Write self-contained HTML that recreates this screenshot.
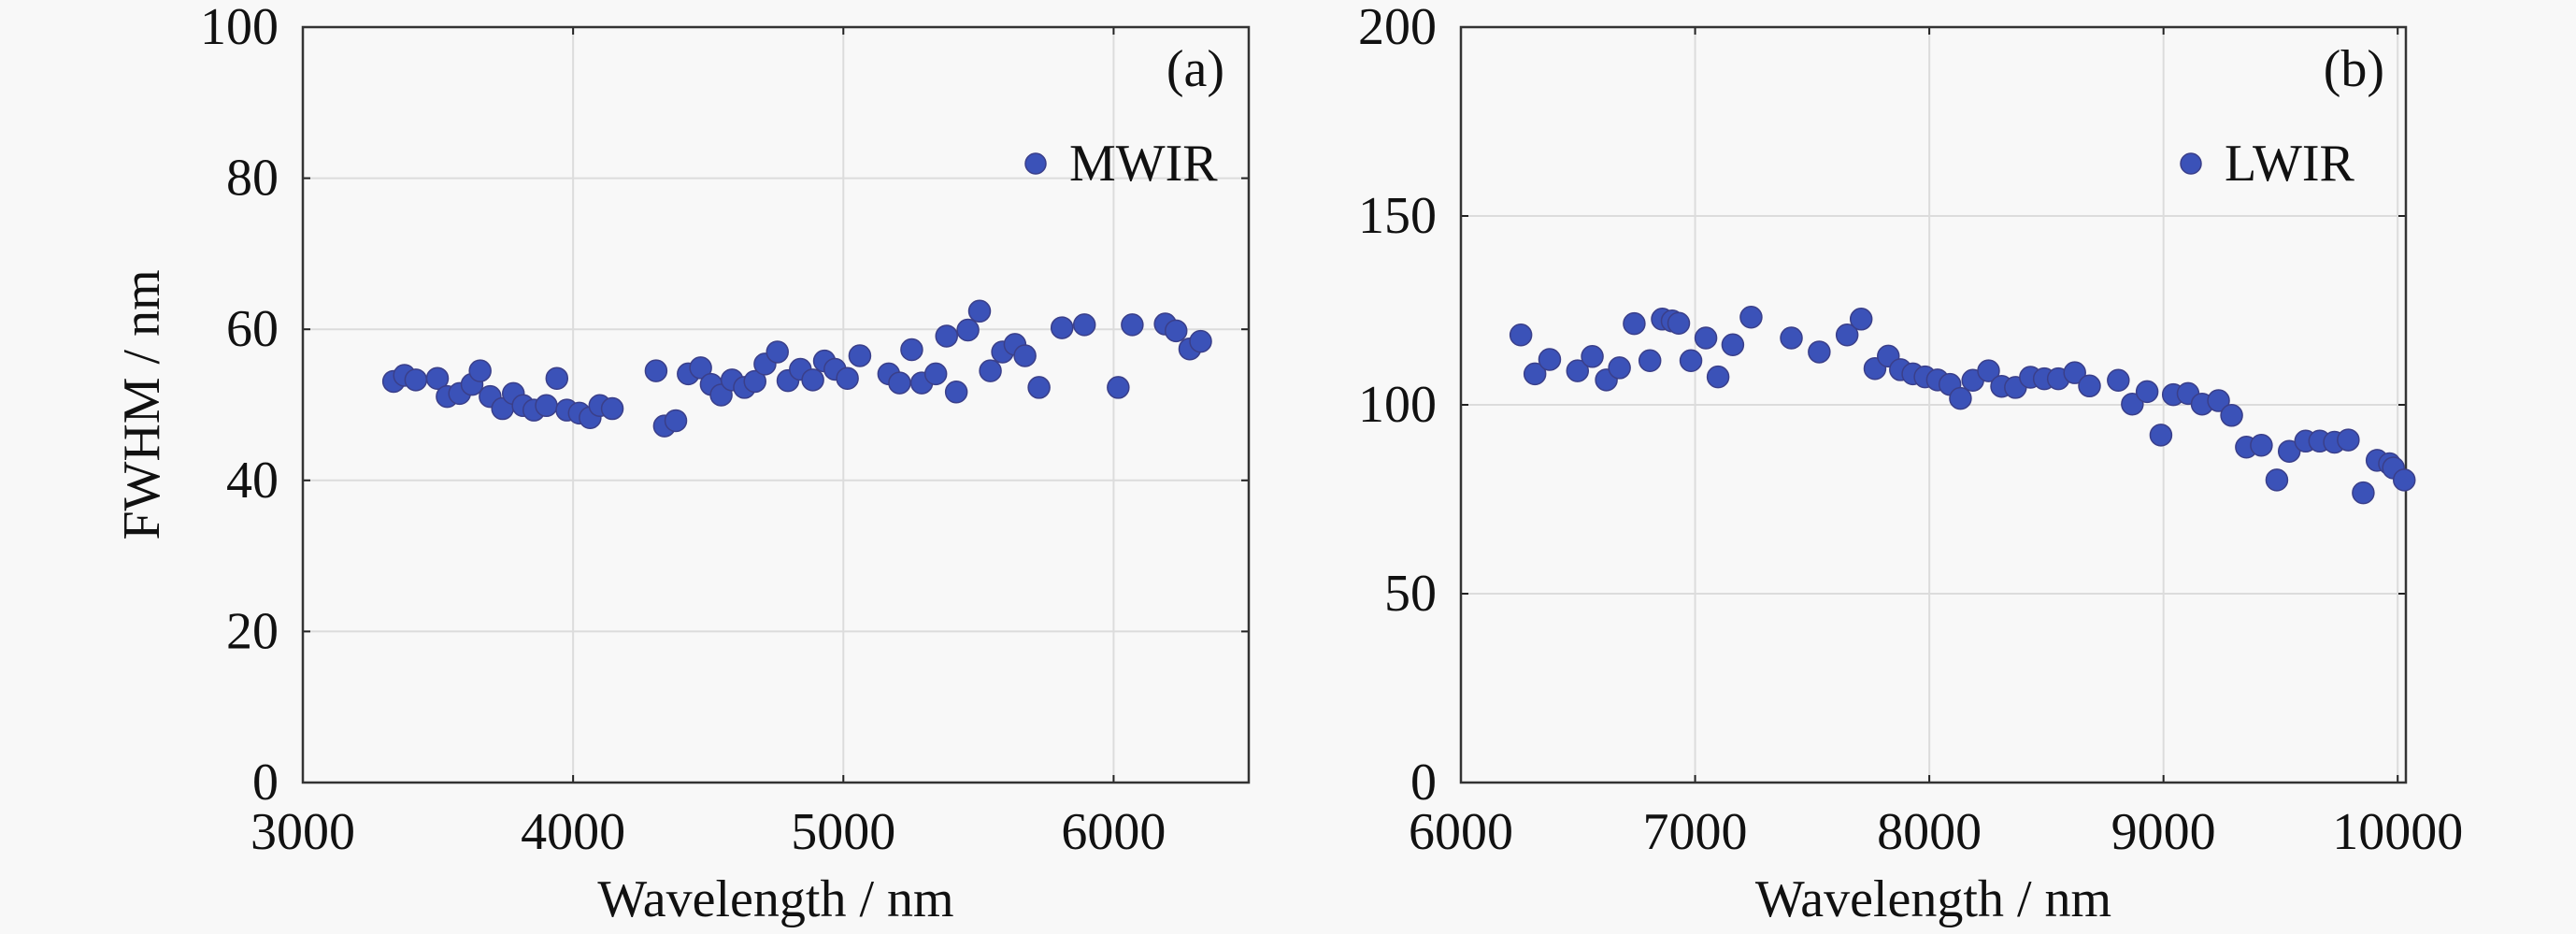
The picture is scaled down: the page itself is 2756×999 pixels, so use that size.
<!DOCTYPE html>
<html><head><meta charset="utf-8"><style>
html,body{margin:0;padding:0;background:#f8f8f8;}
svg{display:block;}
svg text{font-family:"Liberation Serif","Times New Roman",serif;}
</style></head><body>
<svg id="fig" width="2756" height="999" viewBox="0 0 2756 999" font-family="Liberation Serif, serif">
<rect width="2756" height="999" fill="#f8f8f8"/>
</svg>
<script>
const mwirX=[3336,3376,3418,3498,3534,3580,3626,3656,3693,3739,3779,3815,3855,3901,3940,3977,4023,4063,4099,4145,4307,4338,4380,4426,4472,4511,4548,4588,4634,4673,4710,4756,4795,4841,4887,4930,4969,5015,5061,5168,5208,5253,5290,5342,5382,5418,5461,5504,5544,5589,5635,5672,5724,5809,5892,6017,6069,6191,6231,6282,6322];
const mwirY=[53.1,53.9,53.3,53.5,51.1,51.5,52.7,54.5,51.1,49.5,51.5,49.9,49.3,49.9,53.5,49.3,48.9,48.3,49.9,49.5,54.5,47.2,47.9,54.1,54.9,52.7,51.3,53.3,52.3,53.1,55.4,57.0,53.2,54.7,53.3,55.8,54.7,53.5,56.5,54.1,52.9,57.3,52.9,54.1,59.1,51.7,59.9,62.4,54.5,57.0,58.0,56.5,52.3,60.2,60.6,52.3,60.6,60.7,59.8,57.4,58.4];
const lwirX=[6256,6316,6379,6498,6561,6621,6677,6740,6807,6860,6902,6930,6982,7046,7098,7161,7239,7411,7530,7649,7709,7768,7825,7877,7930,7982,8035,8088,8133,8186,8253,8309,8368,8432,8491,8551,8621,8684,8807,8867,8930,8989,9042,9105,9165,9235,9291,9354,9418,9484,9537,9607,9667,9730,9789,9853,9912,9965,9982,10028];
const lwirY=[118.5,108.2,112.0,109.0,112.8,106.6,109.8,121.5,111.7,122.7,122.2,121.6,111.7,117.7,107.4,115.9,123.2,117.7,114.0,118.5,122.7,109.6,112.9,109.3,108.2,107.4,106.6,105.4,101.7,106.5,109.0,104.9,104.6,107.3,106.9,106.9,108.5,105.0,106.5,100.2,103.5,92.0,102.7,103.0,100.2,101.1,97.2,88.8,89.3,80.1,87.7,90.4,90.4,90.1,90.7,76.7,85.3,84.4,83.3,80.1];
const xTicksA=[3000,4000,5000,6000];
const yTicksA=[0,20,40,60,80,100];
const xTicksB=[6000,7000,8000,9000,10000];
const yTicksB=[0,50,100,150,200];

const NS="http://www.w3.org/2000/svg";
const FF="Liberation Serif, Times New Roman, serif";
const svg=document.getElementById('fig');
function mk(tag,attrs,parent){const e=document.createElementNS(NS,tag);for(const k in attrs)e.setAttribute(k,attrs[k]);if(tag==='text')e.setAttribute('font-family',FF);(parent||svg).appendChild(e);return e;}

function panel(cfg){
  const g=mk('g',{});
  
  
  const sx=v=>cfg.L+(v-cfg.x0)/(cfg.x1-cfg.x0)*(cfg.R-cfg.L);
  const sy=v=>cfg.B-(v-cfg.y0)/(cfg.y1-cfg.y0)*(cfg.B-cfg.T);
  cfg.xt.forEach(t=>{
    const l=mk('line',{x1:sx(t),x2:sx(t),y1:cfg.T,y2:cfg.B,stroke:'#dcdcdc','stroke-width':2},g);
    
    
    const tx=mk('text',{x:sx(t),y:908,'font-size':56,'text-anchor':'middle',fill:'#111'},g);
    tx.textContent=t;
    
    
    mk('line',{x1:sx(t),x2:sx(t),y1:cfg.B,y2:cfg.B-8,stroke:'#222','stroke-width':2},g);
    mk('line',{x1:sx(t),x2:sx(t),y1:cfg.T,y2:cfg.T+8,stroke:'#222','stroke-width':2},g);
  });
  cfg.yt.forEach(t=>{
    const l=mk('line',{x1:cfg.L,x2:cfg.R,y1:sy(t),y2:sy(t),stroke:'#dcdcdc','stroke-width':2},g);
    
    
    const tx=mk('text',{x:cfg.L-26,y:sy(t)+18,'font-size':56,'text-anchor':'end',fill:'#111'},g);
    tx.textContent=t;
    
    
    mk('line',{x1:cfg.L,x2:cfg.L+8,y1:sy(t),y2:sy(t),stroke:'#222','stroke-width':2},g);
    mk('line',{x1:cfg.R,x2:cfg.R-8,y1:sy(t),y2:sy(t),stroke:'#222','stroke-width':2},g);
  });
  const box=mk('rect',{x:cfg.L,y:cfg.T,width:cfg.R-cfg.L,height:cfg.B-cfg.T,fill:'none',stroke:'#333','stroke-width':2.5},g);
  
  
  cfg.xs.forEach((x,i)=>{
    const c=mk('circle',{cx:sx(x),cy:sy(cfg.ys[i]),r:11.5,fill:'#3b52b8',stroke:'#3a3f8a','stroke-width':1.5},g);
    
    
  });
  const xt=mk('text',{x:(cfg.L+cfg.R)/2,y:980,'font-size':56,'text-anchor':'middle',fill:'#111'},g);
  xt.textContent='Wavelength / nm';
  
  
  const pl=mk('text',{x:cfg.labX,y:92,'font-size':56,'text-anchor':'end',fill:'#111'},g);
  pl.textContent=cfg.label;
  
  
  const ld=mk('circle',{cx:cfg.legX,cy:175,r:11,fill:'#3b52b8',stroke:'#3a3f8a','stroke-width':1.5},g);
  
  
  const lt=mk('text',{x:cfg.legX+36,y:193,'font-size':56,fill:'#111'},g);
  lt.textContent=cfg.series;
  
  
}
panel({name:'panel-a-mwir',L:324,R:1336,T:29,B:837,x0:3000,x1:6500,y0:0,y1:100,xt:xTicksA,yt:yTicksA,xs:mwirX,ys:mwirY,label:'(a)',labX:1310,legX:1108,series:'MWIR'});
panel({name:'panel-b-lwir',L:1563,R:2574,T:29,B:837,x0:6000,x1:10035,y0:0,y1:200,xt:xTicksB,yt:yTicksB,xs:lwirX,ys:lwirY,label:'(b)',labX:2551,legX:2344,series:'LWIR'});
const yt=mk('text',{x:0,y:0,'font-size':56,'text-anchor':'middle',fill:'#111',transform:'translate(170,433) rotate(-90)'});
yt.textContent='FWHM / nm';


</script>
</body></html>
